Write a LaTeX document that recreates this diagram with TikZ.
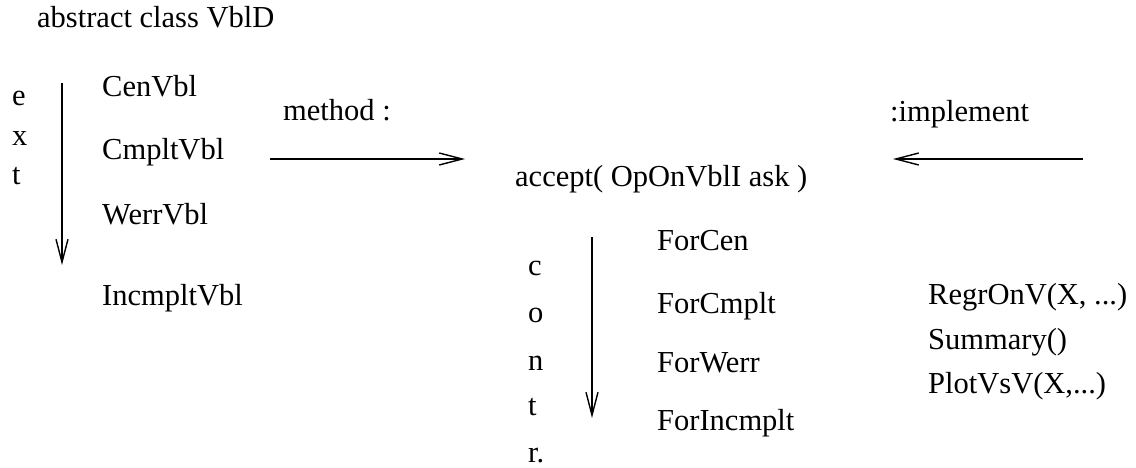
\documentclass[tikz,border=0pt]{standalone}
\usepackage{fontspec}
\setmainfont{Liberation Serif}
\usetikzlibrary{arrows.meta,positioning}
\tikzset{every picture/.style={
  >={Straight Barb[length=23pt,width=12pt]}   % Open V arrow tips.
  }
}

\begin{document}
\begin{tikzpicture}[
      x=1pt, y=-1pt,
      txt/.style={
        anchor=base west,
        inner sep=0pt,
        font=\fontsize{30.5}{36}\selectfont
      },
      link/.style={->, line width=1.4pt}]

      \useasboundingbox (0,0) rectangle (1136,468);

      % The abstract class and its subclasses.
      \node[txt] (vbld) at (37,28) { abstract class VblD };
      \node[txt] (cen)   at (102,97)  { CenVbl };
      \node[txt] (cmplt) at (102,160) { CmpltVbl };
      \node[txt] (werr)  at (102,224) { WerrVbl };
      \node[txt] (incmp) at (102,305) { IncmpltVbl };

      % Vertical word "ext".
      \node[txt] (ext1) at (12,106) { e };
      \node[txt] (ext2) at (12,146) { x };
      \node[txt] (ext3) at (12,185) { t };

      % The method and the interface.
      \node[txt] (meth)   at (283,121) { method : };
      \node[txt] (accept) at (515,186) { accept( OpOnVblI ask ) };
      \node[txt] (impl)   at (890,122) { :implement };

      % Concrete visitors.
      \node[txt] (fcen)   at (657,250) { ForCen };
      \node[txt] (fcmpl)  at (657,313) { ForCmplt };
      \node[txt] (fwerr)  at (657,372) { ForWerr };
      \node[txt] (fincm)  at (657,430) { ForIncmplt };

      % Vertical word "contr.".
      \node[txt] (con1) at (528,275) { c };
      \node[txt] (con2) at (528,322) { o };
      \node[txt] (con3) at (528,370) { n };
      \node[txt] (con4) at (528,415) { t };
      \node[txt] (con5) at (528,462) { r. };

      % Operations.
      \node[txt] (regr) at (928,304) { RegrOnV(X, ...) };
      \node[txt] (summ) at (928,349) { Summary() };
      \node[txt] (plot) at (928,393) { PlotVsV(X,...) };

      % Arrow end points.
      \coordinate (exttop) at (62,83);
      \coordinate (extbot) at (62,265);
      \coordinate (methl)  at (270,159);
      \coordinate (methr)  at (465,159);
      \coordinate (impll)  at (893,159);
      \coordinate (implr)  at (1083,159);
      \coordinate (contop) at (592,237);
      \coordinate (conbot) at (592,418);

      \draw[link] (exttop) -- (extbot);
      \draw[link] (methl) -- (methr);
      \draw[link] (implr) -- (impll);
      \draw[link] (contop) -- (conbot);

    \end{tikzpicture}
\end{document}
